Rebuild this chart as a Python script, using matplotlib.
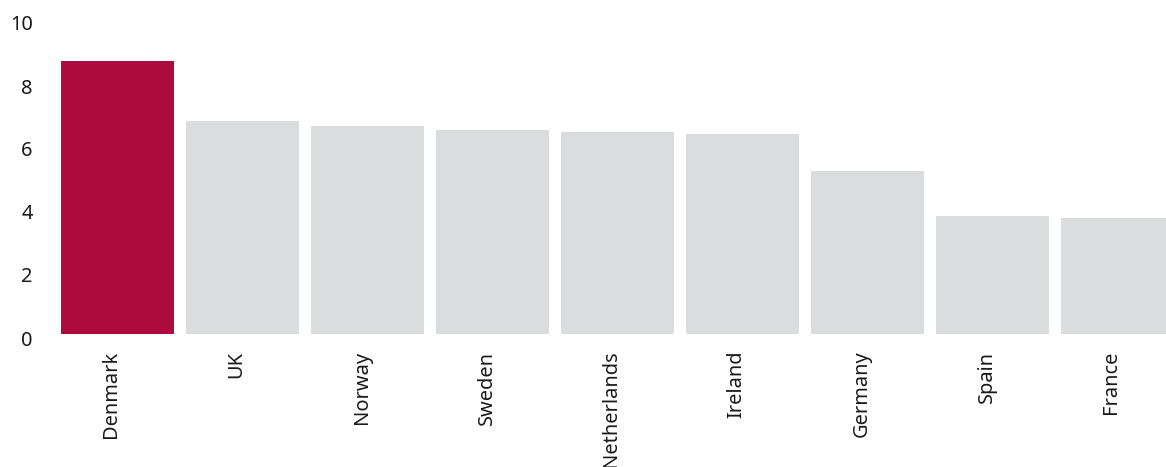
import matplotlib
matplotlib.use("Agg")
import matplotlib.pyplot as plt
import matplotlib.transforms as mtransforms

countries = ["Denmark", "UK", "Norway", "Sweden", "Netherlands", "Ireland", "Germany", "Spain", "France"]
values = [8.67, 6.76, 6.60, 6.48, 6.41, 6.35, 5.17, 3.75, 3.68]
colors = ["#AD0B3E"] + ["#DBDCDE"] * 8
yticks = [0, 2, 4, 6, 8, 10]

plt.rcParams['font.family'] = ['Noto Sans', 'DejaVu Sans']

W, H = 1166, 467
fig = plt.figure(figsize=(W / 100, H / 100), dpi=100)
left, right, top, bottom = 55, 1166, 19, 334
ax = fig.add_axes([left / W, 1 - bottom / H, (right - left) / W, (bottom - top) / H])

x = list(range(len(countries)))
ax.bar(x, values, width=0.904, color=colors)
ax.set_xlim(-0.5, (right - 117.5) / 125)
ax.set_ylim(0, 10)
ax.set_yticks(yticks)
ax.set_yticklabels([str(t) for t in yticks], fontsize=14.4, color="#1a1a1a")
ax.set_xticks(x)
ax.set_xticklabels(countries, rotation=90, fontsize=14.4, color="#1a1a1a")
ax.tick_params(axis='y', length=0, pad=16)
ax.tick_params(axis='x', length=0, pad=12)
for s in ax.spines.values():
    s.set_visible(False)

offset = mtransforms.ScaledTranslation(0, -4 / 100, fig.dpi_scale_trans)
for lbl in ax.get_yticklabels():
    lbl.set_transform(lbl.get_transform() + offset)
offx = mtransforms.ScaledTranslation(-6 / 100, 0, fig.dpi_scale_trans)
for lbl in ax.get_xticklabels():
    lbl.set_transform(lbl.get_transform() + offx)

fig.savefig("out.png", dpi=100)
